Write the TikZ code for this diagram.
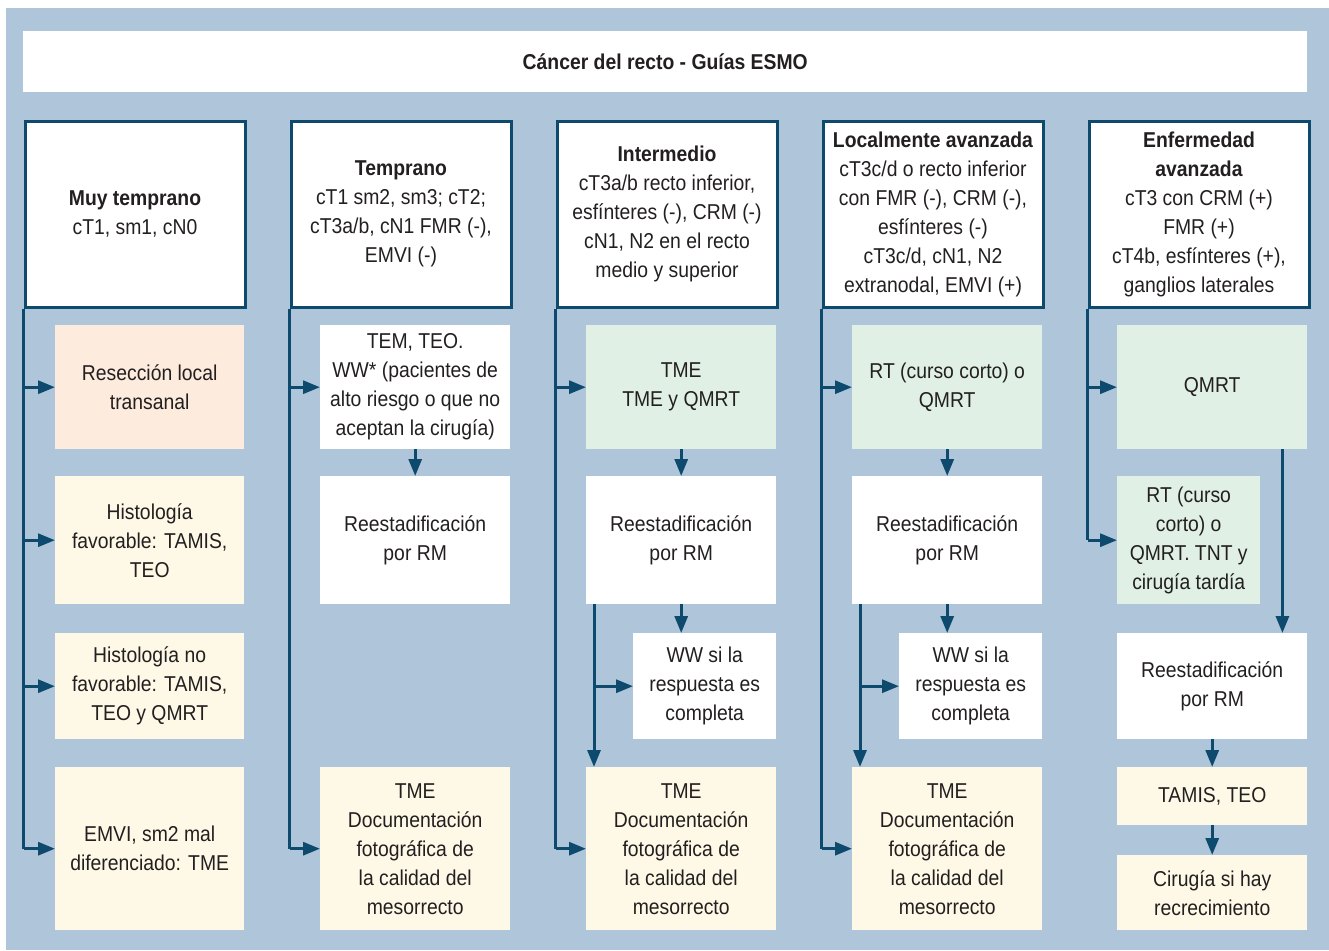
\documentclass[tikz,border=0pt]{standalone}
\usepackage{fontspec}
\setmainfont{Liberation Sans}[FakeStretch=0.9]
\usetikzlibrary{arrows.meta}
\definecolor{bgblue}{HTML}{AFC5D9}
\definecolor{linkblue}{HTML}{0D4A6E}
\definecolor{peach}{HTML}{FDEBDE}
\definecolor{paleyellow}{HTML}{FEF9E6}
\definecolor{palegreen}{HTML}{E0F0E5}
\definecolor{ink}{HTML}{231F20}
\begin{document}
\begin{tikzpicture}[x=1pt,y=-1pt,
  font=\fontsize{21.5}{29}\selectfont, text=ink,
  box/.style={anchor=north west,inner sep=0pt,align=center,minimum width=190,fill=white},
  head/.style={anchor=north west,inner sep=0pt,align=center,minimum width=220,minimum height=186,fill=white,draw=linkblue,line width=3pt},
  wire/.style={draw=linkblue,line width=3pt},
  arr/.style={wire,-{Triangle[length=17pt,width=13pt]}}]
\useasboundingbox (0,0) rectangle (1329,950);
\fill[white](0,0)rectangle(1329,950);
\fill[bgblue](6,8)rectangle(1329,950);
\node[box,minimum width=1284,minimum height=61] (title) at (23,31) {\bfseries Cáncer del recto - Guías ESMO};

\node[head] (h1) at (23.5,119.5) {\bfseries Muy temprano\\cT1, sm1, cN0};
\node[head] (h2) at (289.5,119.5) {\bfseries Temprano\\cT1 sm2, sm3; cT2;\\cT3a/b, cN1 FMR (-),\\EMVI (-)};
\node[head] (h3) at (555.5,119.5) {\bfseries Intermedio\\cT3a/b recto inferior,\\esfínteres (-), CRM (-)\\cN1, N2 en el recto\\medio y superior};
\node[head] (h4) at (821.5,119.5) {\bfseries Localmente avanzada\\cT3c/d o recto inferior\\con FMR (-), CRM (-),\\esfínteres (-)\\cT3c/d, cN1, N2\\extranodal, EMVI (+)};
\node[head] (h5) at (1087.5,119.5) {\bfseries Enfermedad\\\bfseries avanzada\\cT3 con CRM (+)\\FMR (+)\\cT4b, esfínteres (+),\\ganglios laterales};

\node[box,minimum width=189,minimum height=124,fill=peach] (a1) at (55,325) {Resección local\\transanal};
\node[box,minimum width=189,minimum height=128,fill=paleyellow] (b1) at (55,476) {Histología\\favorable: TAMIS,\\TEO};
\node[box,minimum width=189,minimum height=106,fill=paleyellow] (c1) at (55,633) {Histología no\\favorable: TAMIS,\\TEO y QMRT};
\node[box,minimum width=189,minimum height=163,fill=paleyellow] (d1) at (55,767) {EMVI, sm2 mal\\diferenciado: TME};

\node[box,minimum height=124] (a2) at (320,325) {TEM, TEO.\\WW* (pacientes de\\alto riesgo o que no\\aceptan la cirugía)};
\node[box,minimum height=128] (r2) at (320,476) {Reestadificación\\por RM};
\node[box,minimum height=163,fill=paleyellow] (t2) at (320,767) {TME\\Documentación\\fotográfica de\\la calidad del\\mesorrecto};

\node[box,minimum height=124,fill=palegreen] (a3) at (586,325) {TME\\TME y QMRT};
\node[box,minimum height=128] (r3) at (586,476) {Reestadificación\\por RM};
\node[box,minimum width=143,minimum height=106] (w3) at (633,633) {WW si la\\respuesta es\\completa};
\node[box,minimum height=163,fill=paleyellow] (t3) at (586,767) {TME\\Documentación\\fotográfica de\\la calidad del\\mesorrecto};

\node[box,minimum height=124,fill=palegreen] (a4) at (852,325) {RT (curso corto) o\\QMRT};
\node[box,minimum height=128] (r4) at (852,476) {Reestadificación\\por RM};
\node[box,minimum width=143,minimum height=106] (w4) at (899,633) {WW si la\\respuesta es\\completa};
\node[box,minimum height=163,fill=paleyellow] (t4) at (852,767) {TME\\Documentación\\fotográfica de\\la calidad del\\mesorrecto};

\node[box,minimum height=124,fill=palegreen] (a5) at (1117,325) {QMRT};
\node[box,minimum width=143,minimum height=128,fill=palegreen] (b5) at (1117,476) {RT (curso\\corto) o\\QMRT. TNT y\\cirugía tardía};
\node[box,minimum height=106] (r5) at (1117,633) {Reestadificación\\por RM};
\node[box,minimum height=58,fill=paleyellow] (t5) at (1117,767) {TAMIS, TEO};
\node[box,minimum height=75,fill=paleyellow] (c5) at (1117,855) {Cirugía si hay\\recrecimiento};

\draw[wire](h1.south west)--(h1.south west|-d1.west);
\foreach \n in {a1,b1,c1,d1}\draw[arr](h1.south west|-\n.west)--(\n.west);

\draw[wire](h2.south west)--(h2.south west|-t2.west);
\foreach \n in {a2,t2}\draw[arr](h2.south west|-\n.west)--(\n.west);
\draw[arr](a2.south)--(r2.north);

\draw[wire](h3.south west)--(h3.south west|-t3.west);
\foreach \n in {a3,t3}\draw[arr](h3.south west|-\n.west)--(\n.west);
\draw[arr](a3.south)--(r3.north);
\draw[arr](r3.south)--(r3.south|-w3.north);
\coordinate (s3) at ([xshift=8pt]r3.south west);
\draw[arr](s3)--(s3|-t3.north);
\draw[arr](s3|-w3.west)--(w3.west);

\draw[wire](h4.south west)--(h4.south west|-t4.west);
\foreach \n in {a4,t4}\draw[arr](h4.south west|-\n.west)--(\n.west);
\draw[arr](a4.south)--(r4.north);
\draw[arr](r4.south)--(r4.south|-w4.north);
\coordinate (s4) at ([xshift=8pt]r4.south west);
\draw[arr](s4)--(s4|-t4.north);
\draw[arr](s4|-w4.west)--(w4.west);

\draw[wire](h5.south west)--(h5.south west|-b5.west);
\foreach \n in {a5,b5}\draw[arr](h5.south west|-\n.west)--(\n.west);
\draw[arr]([xshift=-25pt]a5.south east)--([xshift=-25pt]r5.north east);
\draw[arr](r5.south)--(t5.north);
\draw[arr](t5.south)--(c5.north);
\end{tikzpicture}
\end{document}
